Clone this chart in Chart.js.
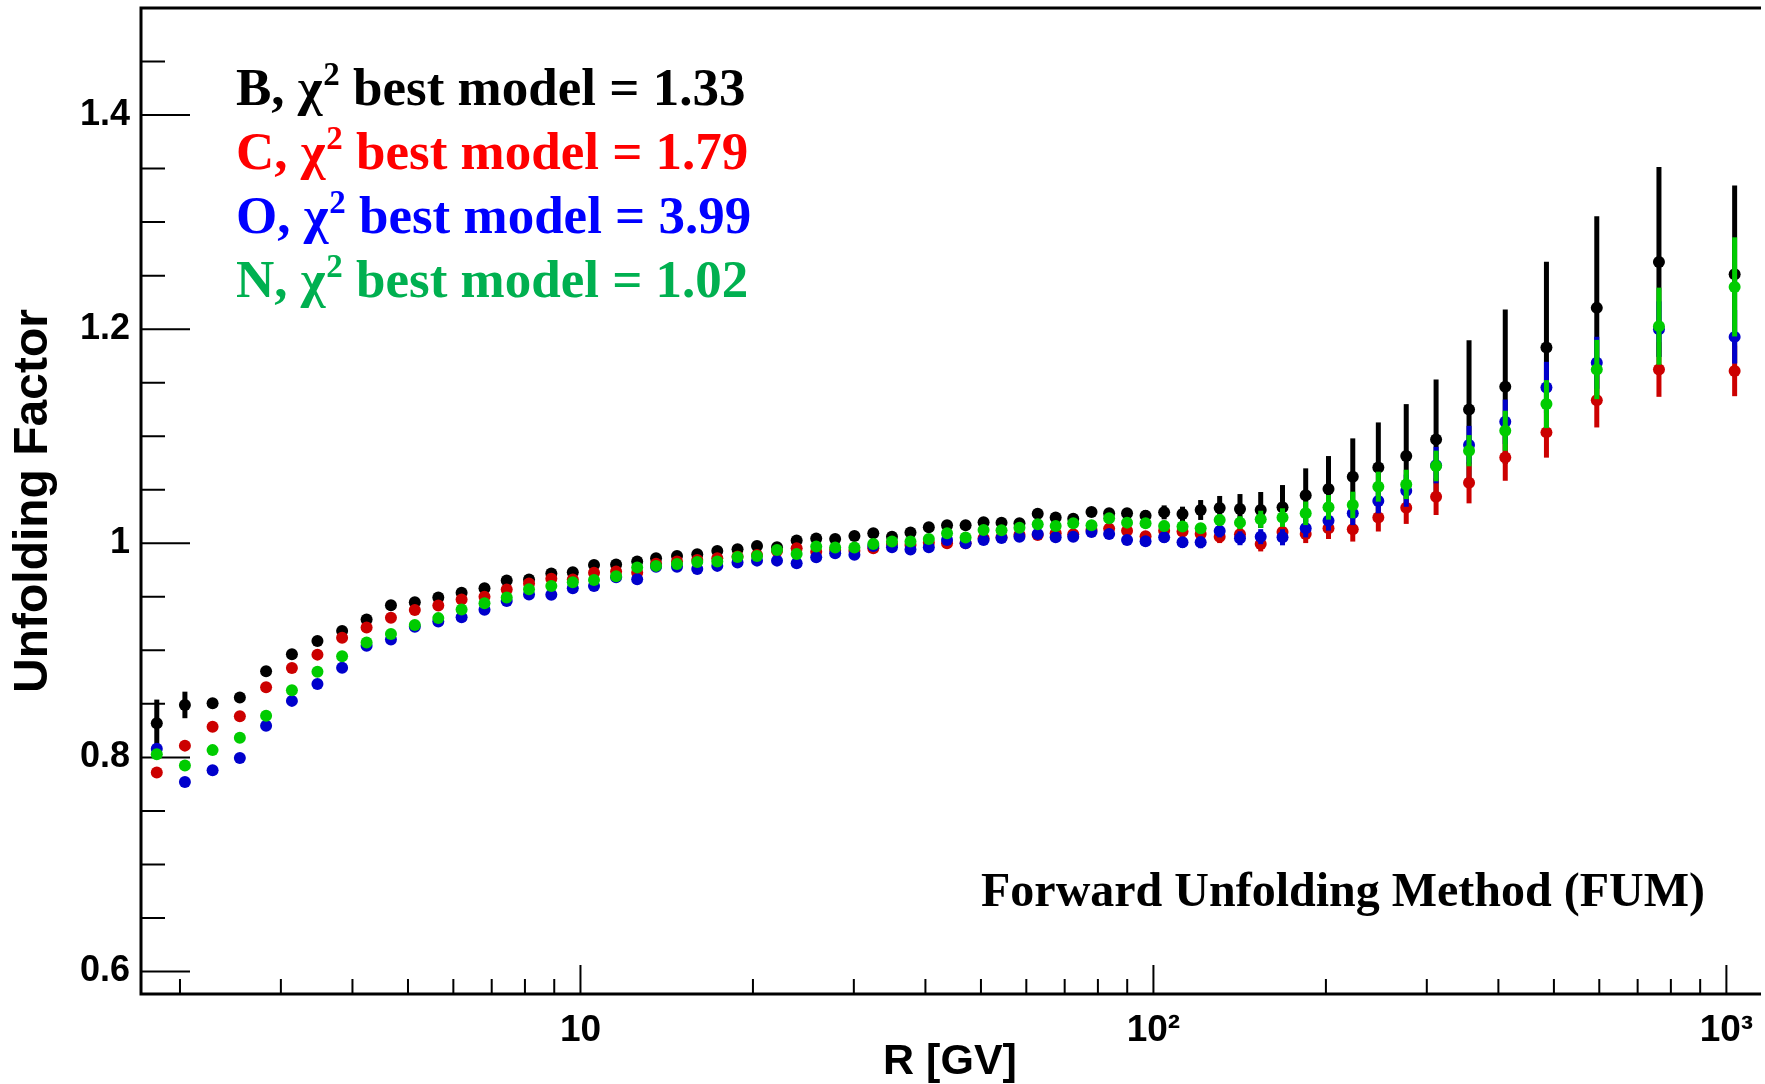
<!DOCTYPE html>
<html>
<head>
<meta charset="utf-8">
<script src="https://cdn.jsdelivr.net/npm/chart.js@4.4.1/dist/chart.umd.min.js"></script>
<style>
  html, body { margin: 0; padding: 0; background: #ffffff; }
  #unfolding { display: block; }
</style>
</head>
<body>
<canvas id="unfolding" width="1765" height="1084"></canvas>
<script>
// ---- data ----
const rigidity = [
  1.822, 2.040, 2.280, 2.544, 2.827, 3.136, 3.475, 3.837, 4.234, 4.669,
  5.139, 5.648, 6.202, 6.80, 7.435, 8.132, 8.895, 9.696, 10.56, 11.54,
  12.56, 13.55, 14.74, 15.99, 17.33, 18.80, 20.33, 22.03, 23.84, 25.79,
  27.83, 30.07, 32.44, 34.97, 37.67, 40.55, 43.63, 47.01, 50.53, 54.31,
  58.37, 62.81, 67.51, 72.45, 77.97, 83.69, 89.94, 96.89, 104.4, 112.4,
  120.9, 130.5, 141.6, 153.9, 168.0, 184.4, 202.1, 222.8, 246.9, 276.2,
  311.4, 355.5, 411.2, 485.2, 594.0, 762.6, 1033.7
];

const boronValues = [
  0.832, 0.849, 0.8506, 0.856, 0.8804, 0.8963, 0.9087, 0.918, 0.9289, 0.9422,
  0.945, 0.9494, 0.9537, 0.958, 0.9652, 0.9661, 0.9717, 0.973, 0.9798, 0.9801,
  0.983, 0.986, 0.9882, 0.9897, 0.9928, 0.9944, 0.9975, 0.9963, 1.0025, 1.0044,
  1.004, 1.0068, 1.0093, 1.0062, 1.010, 1.0149, 1.0168, 1.0168, 1.0196, 1.0193,
  1.0187, 1.0277, 1.024, 1.023, 1.0292, 1.028, 1.028, 1.0258, 1.0289, 1.0274,
  1.0311, 1.033, 1.032, 1.0311, 1.0336, 1.0448, 1.0507, 1.0622, 1.0709, 1.0815,
  1.097, 1.125, 1.1462, 1.1829, 1.2199, 1.2628, 1.2513
];
const boronErr = [
  0.022, 0.0124, 0.004, 0.003, 0.003, 0.003, 0.003, 0.003, 0.003, 0.003,
  0.003, 0.003, 0.003, 0.003, 0.003, 0.003, 0.003, 0.003, 0.003, 0.003,
  0.003, 0.003, 0.003, 0.003, 0.003, 0.003, 0.003, 0.003, 0.003, 0.003,
  0.003, 0.003, 0.003, 0.003, 0.003, 0.003, 0.003, 0.003, 0.003, 0.003,
  0.003, 0.0035, 0.0035, 0.0035, 0.0035, 0.004, 0.0045, 0.005, 0.0065, 0.0068,
  0.0093, 0.0112, 0.014, 0.0168, 0.0208, 0.0252, 0.0308, 0.0358, 0.042, 0.0485,
  0.056, 0.0647, 0.0722, 0.080, 0.0855, 0.0886, 0.083
];

const carbonValues = [
  0.786, 0.811, 0.8286, 0.8385, 0.8655, 0.8835, 0.896, 0.9118, 0.9214, 0.9304,
  0.9376, 0.9419, 0.9475, 0.950, 0.9568, 0.9624, 0.9668, 0.9661, 0.9724, 0.9736,
  0.9725, 0.981, 0.983, 0.9845, 0.986, 0.9876, 0.989, 0.9928, 0.9953, 0.9922,
  0.9938, 0.993, 0.9953, 0.9994, 0.9984, 1.0006, 1.000, 1.000, 1.0047, 1.0056,
  1.008, 1.0078, 1.0093, 1.0084, 1.0124, 1.0137, 1.0118, 1.0065, 1.0118, 1.0109,
  1.0087, 1.0062, 1.0085, 0.9994, 1.0106, 1.0087, 1.014, 1.0131, 1.024, 1.0333,
  1.0435, 1.0566, 1.0802, 1.1036, 1.1337, 1.1623, 1.161
];
const carbonErr = [
  0.002, 0.002, 0.002, 0.002, 0.002, 0.002, 0.002, 0.002, 0.002, 0.002,
  0.002, 0.002, 0.002, 0.002, 0.002, 0.002, 0.002, 0.002, 0.002, 0.002,
  0.002, 0.002, 0.002, 0.002, 0.002, 0.002, 0.002, 0.002, 0.002, 0.002,
  0.002, 0.002, 0.002, 0.002, 0.002, 0.0025, 0.0025, 0.0025, 0.0025, 0.0025,
  0.003, 0.003, 0.003, 0.003, 0.0035, 0.004, 0.004, 0.0045, 0.005, 0.005,
  0.0055, 0.006, 0.0065, 0.007, 0.008, 0.0085, 0.010, 0.0115, 0.013, 0.0152,
  0.0171, 0.0193, 0.0218, 0.0236, 0.0255, 0.0255, 0.0236
];

const oxygenValues = [
  0.808, 0.777, 0.788, 0.7994, 0.8295, 0.8528, 0.8686, 0.8838, 0.9043, 0.9102,
  0.922, 0.927, 0.931, 0.938, 0.946, 0.9522, 0.9519, 0.958, 0.960, 0.9683,
  0.9665, 0.978, 0.978, 0.976, 0.9789, 0.982, 0.9838, 0.9838, 0.9813, 0.9869,
  0.9907, 0.9894, 0.9975, 0.9963, 0.9941, 0.9963, 1.0031, 1.000, 1.0031, 1.005,
  1.0062, 1.0087, 1.0056, 1.0062, 1.0106, 1.0087, 1.0031, 1.0019, 1.0056, 1.0009,
  1.0009, 1.0115, 1.0047, 1.0062, 1.0056, 1.014, 1.0211, 1.028, 1.0395, 1.0491,
  1.073, 1.0917, 1.1135, 1.1455, 1.1686, 1.200, 1.1928
];
const oxygenErr = [
  0.002, 0.002, 0.002, 0.002, 0.002, 0.002, 0.002, 0.002, 0.002, 0.002,
  0.002, 0.002, 0.002, 0.002, 0.002, 0.002, 0.002, 0.002, 0.002, 0.002,
  0.002, 0.002, 0.002, 0.002, 0.002, 0.002, 0.002, 0.002, 0.002, 0.002,
  0.002, 0.002, 0.002, 0.002, 0.002, 0.0025, 0.0025, 0.0025, 0.0025, 0.0025,
  0.003, 0.003, 0.003, 0.003, 0.0035, 0.004, 0.004, 0.0045, 0.005, 0.005,
  0.0055, 0.006, 0.0065, 0.007, 0.0075, 0.0085, 0.0093, 0.011, 0.0115, 0.015,
  0.017, 0.018, 0.0208, 0.024, 0.0243, 0.026, 0.025
];

const nitrogenValues = [
  0.803, 0.7925, 0.8068, 0.8183, 0.839, 0.8627, 0.880, 0.8944, 0.9074, 0.9152,
  0.9236, 0.9301, 0.9382, 0.944, 0.9494, 0.9571, 0.960, 0.9637, 0.9658, 0.9693,
  0.9775, 0.9789, 0.9807, 0.9826, 0.9829, 0.9872, 0.9882, 0.9938, 0.990, 0.9969,
  0.996, 0.996, 0.9994, 1.0016, 1.0016, 1.004, 1.0093, 1.0053, 1.0124, 1.0121,
  1.0146, 1.0177, 1.0162, 1.0187, 1.0168, 1.0233, 1.0193, 1.0187, 1.0162, 1.0156,
  1.014, 1.0218, 1.0193, 1.0224, 1.024, 1.028, 1.0336, 1.0358, 1.0529, 1.055,
  1.0722, 1.0865, 1.1051, 1.130, 1.1623, 1.2028, 1.2395
];
const nitrogenErr = [
  0.002, 0.002, 0.002, 0.002, 0.002, 0.002, 0.002, 0.002, 0.002, 0.002,
  0.002, 0.002, 0.002, 0.002, 0.002, 0.002, 0.002, 0.002, 0.002, 0.002,
  0.002, 0.002, 0.002, 0.002, 0.002, 0.002, 0.002, 0.002, 0.002, 0.002,
  0.002, 0.002, 0.002, 0.002, 0.002, 0.0025, 0.0025, 0.0025, 0.0025, 0.0025,
  0.003, 0.003, 0.003, 0.003, 0.0035, 0.004, 0.004, 0.0045, 0.005, 0.005,
  0.005, 0.0055, 0.006, 0.008, 0.0087, 0.011, 0.0115, 0.0124, 0.014, 0.0137,
  0.0143, 0.0146, 0.0187, 0.0224, 0.0277, 0.036, 0.0463
];

const seriesNames = ['B', 'C', 'O', 'N'];
const chi2Values = ['1.33', '1.79', '3.99', '1.02'];

const xTickValues = [10, 100, 1000];
const xTickLabels = ['10', '10\u00B2', '10\u00B3'];
const xMinorTicks = [2, 3, 4, 5, 6, 7, 8, 9, 20, 30, 40, 50, 60, 70, 80, 90,
                     200, 300, 400, 500, 600, 700, 800, 900];
const yTickValues = [0.6, 0.8, 1.0, 1.2, 1.4];
const yTickLabels = ['0.6', '0.8', '1', '1.2', '1.4'];
const yMinorTicks = [0.65, 0.7, 0.75, 0.85, 0.9, 0.95, 1.05, 1.1, 1.15,
                     1.25, 1.3, 1.35, 1.45];

// ---- styles ----
const markerColors = ['#000000', '#cc0000', '#0000cc', '#00cc00'];
const textColors = ['#000000', '#ff0000', '#0000ff', '#00b050'];
const SANS = '"Liberation Sans", Arial, Helvetica, sans-serif';
const SERIF = '"Liberation Serif", "Times New Roman", Times, serif';

function toPoints(values, errs) {
  return rigidity.map((r, i) => ({ x: r, y: values[i], err: errs[i] }));
}

// error bars, drawn just before each dataset's markers
const errorBars = {
  id: 'errorBars',
  beforeDatasetDraw(chart, args) {
    const ctx = chart.ctx;
    const ds = chart.data.datasets[args.index];
    const yScale = chart.scales.y;
    const area = chart.chartArea;
    ctx.save();
    ctx.beginPath();
    ctx.rect(area.left, area.top, area.right - area.left, area.bottom - area.top);
    ctx.clip();
    ctx.strokeStyle = ds.backgroundColor;
    ctx.lineWidth = 5;
    args.meta.data.forEach((pt, i) => {
      const d = ds.data[i];
      const y1 = yScale.getPixelForValue(d.y - d.err);
      const y2 = yScale.getPixelForValue(d.y + d.err);
      ctx.beginPath();
      ctx.moveTo(pt.x, y1);
      ctx.lineTo(pt.x, y2);
      ctx.stroke();
    });
    ctx.restore();
  }
};

// ROOT-like frame with ticks pointing inwards
const frameTicks = {
  id: 'frameTicks',
  beforeDatasetsDraw(chart) {
    const ctx = chart.ctx;
    const { left, right, top, bottom } = chart.chartArea;
    const xs = chart.scales.x, ys = chart.scales.y;
    ctx.save();
    ctx.strokeStyle = '#000';
    ctx.lineWidth = 2;
    ctx.beginPath();
    yTickValues.forEach(v => {
      const y = ys.getPixelForValue(v);
      ctx.moveTo(left, y); ctx.lineTo(left + 49, y);
    });
    yMinorTicks.forEach(v => {
      const y = ys.getPixelForValue(v);
      ctx.moveTo(left, y); ctx.lineTo(left + 24, y);
    });
    xTickValues.forEach(v => {
      const x = xs.getPixelForValue(v);
      ctx.moveTo(x, bottom); ctx.lineTo(x, bottom - 29);
    });
    xMinorTicks.forEach(v => {
      const x = xs.getPixelForValue(v);
      ctx.moveTo(x, bottom); ctx.lineTo(x, bottom - 15);
    });
    ctx.stroke();
    ctx.lineWidth = 3;
    ctx.beginPath();
    ctx.moveTo(right + 2, top);
    ctx.lineTo(left, top);
    ctx.lineTo(left, bottom);
    ctx.lineTo(right + 2, bottom);
    ctx.stroke();
    ctx.restore();
  }
};

// chi2 labels and method label
const annotations = {
  id: 'annotations',
  afterDraw(chart) {
    const ctx = chart.ctx;
    ctx.save();
    ctx.textBaseline = 'alphabetic';
    ctx.textAlign = 'left';
    seriesNames.forEach((name, i) => {
      let x = 236;
      const y = 105 + i * 64;
      ctx.fillStyle = textColors[i];
      ctx.font = 'bold 53px ' + SERIF;
      const head = name + ', \u03C7';
      ctx.fillText(head, x, y);
      x += ctx.measureText(head).width + 1;
      ctx.font = 'bold 33px ' + SERIF;
      ctx.fillText('2', x, y - 20);
      x += ctx.measureText('2').width;
      ctx.font = 'bold 53px ' + SERIF;
      ctx.fillText(' best model = ' + chi2Values[i], x, y);
    });
    ctx.fillStyle = '#000';
    ctx.font = 'bold 48px ' + SERIF;
    ctx.fillText('Forward Unfolding Method (FUM)', 981, 906);
    ctx.restore();
  }
};

const datasets = [
  { data: toPoints(boronValues, boronErr), order: 4 },
  { data: toPoints(carbonValues, carbonErr), order: 3 },
  { data: toPoints(oxygenValues, oxygenErr), order: 2 },
  { data: toPoints(nitrogenValues, nitrogenErr), order: 1 }
].map((d, i) => Object.assign(d, {
  label: seriesNames[i],
  backgroundColor: markerColors[i],
  borderColor: markerColors[i],
  pointRadius: 6,
  pointHoverRadius: 6,
  pointBorderWidth: 0,
  showLine: false
}));

new Chart(document.getElementById('unfolding'), {
  type: 'scatter',
  data: { datasets: datasets },
  plugins: [frameTicks, errorBars, annotations],
  options: {
    responsive: false,
    animation: false,
    devicePixelRatio: 1,
    layout: { padding: { top: 8, right: 0, bottom: 0, left: 0 } },
    plugins: { legend: { display: false }, tooltip: { enabled: false } },
    scales: {
      x: {
        type: 'logarithmic',
        min: 1.71,
        max: 1140,
        grid: { display: false, drawTicks: false },
        border: { display: false },
        afterBuildTicks(scale) { scale.ticks = xTickValues.map(v => ({ value: v })); },
        afterFit(scale) {
          scale.height = 90;
          scale.paddingLeft = 0;
          scale.paddingRight = 0;
        },
        ticks: {
          autoSkip: false,
          maxRotation: 0,
          padding: 15,
          color: '#000',
          font: { family: SANS, size: 37, weight: 'bold' },
          callback(value) { return xTickLabels[xTickValues.indexOf(value)]; }
        },
        title: {
          display: true,
          text: 'R [GV]',
          color: '#000',
          padding: 0,
          font: { family: SANS, size: 43, weight: 'bold', lineHeight: 1 }
        }
      },
      y: {
        type: 'linear',
        min: 0.579,
        max: 1.5,
        grid: { display: false, drawTicks: false },
        border: { display: false },
        afterBuildTicks(scale) { scale.ticks = yTickValues.map(v => ({ value: v })); },
        afterFit(scale) {
          scale.width = 141;
          scale.paddingTop = 0;
          scale.paddingBottom = 0;
        },
        ticks: {
          padding: 11,
          color: '#000',
          font: { family: SANS, size: 36, weight: 'bold' },
          callback(value) { return yTickLabels[yTickValues.indexOf(value)]; }
        },
        title: {
          display: true,
          text: 'Unfolding Factor',
          color: '#000',
          padding: { top: 10, bottom: 0 },
          font: { family: SANS, size: 48, weight: 'bold', lineHeight: 1 }
        }
      }
    }
  }
});
</script>
</body>
</html>
